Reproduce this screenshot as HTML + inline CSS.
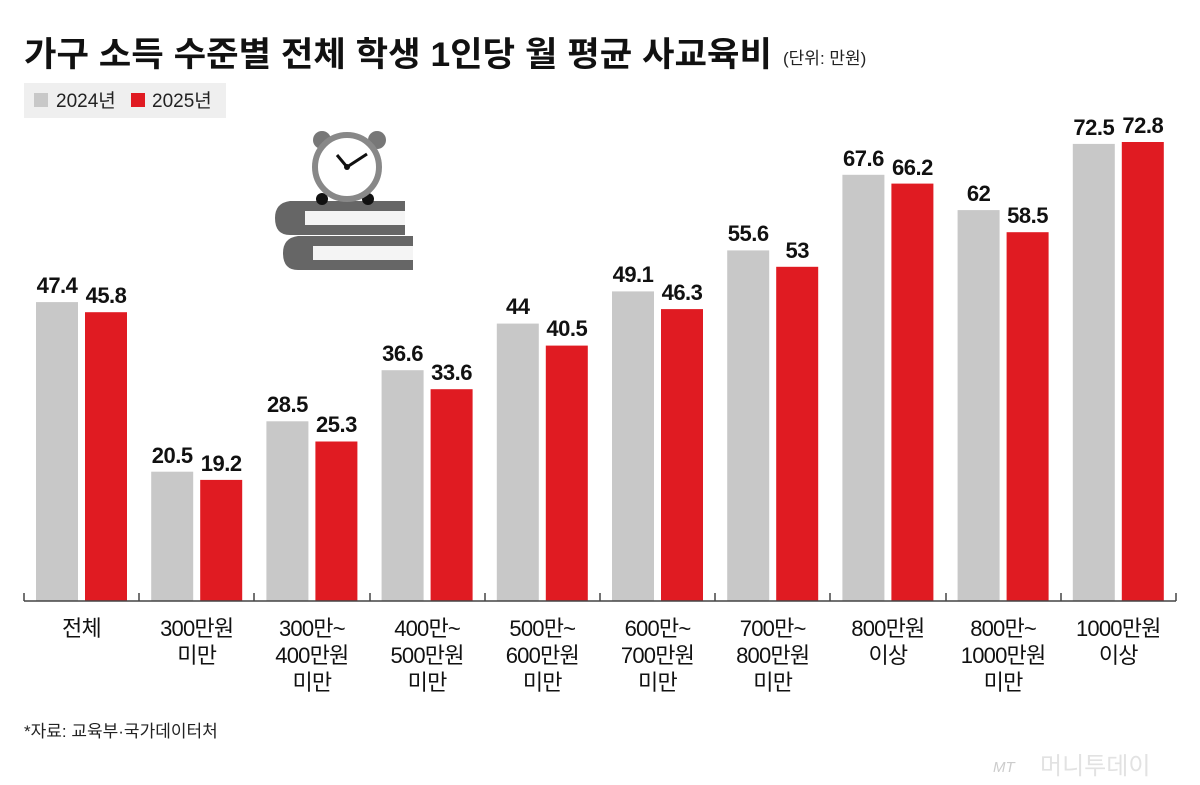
<!DOCTYPE html><html><head><meta charset="utf-8"><style>body{margin:0;background:#fff}svg{display:block}</style></head><body>
<svg width="1200" height="785" xmlns="http://www.w3.org/2000/svg" font-family="'Liberation Sans','Noto Sans CJK KR',sans-serif">
<text x="24" y="66" font-size="34" font-weight="bold" fill="#111" textLength="748" lengthAdjust="spacingAndGlyphs">가구 소득 수준별 전체 학생 1인당 월 평균 사교육비</text>
<text x="783" y="64" font-size="17" fill="#222">(단위: 만원)</text>
<rect x="24" y="83" width="202" height="35" fill="#efefef"/>
<rect x="34" y="93" width="14" height="14" fill="#c8c8c8"/>
<text x="56" y="107" font-size="19" fill="#222">2024년</text>
<rect x="131" y="93" width="14" height="14" fill="#e01b22"/>
<text x="152" y="107" font-size="19" fill="#222">2025년</text>
<g>
<path d="M290 235 q-15 0 -15 -17 q0 -15 15 -17 h115 v10 h-100 v14 h100 v10z" fill="#666"/>
<rect x="305" y="211" width="100" height="14" fill="#f4f4f4"/>
<path d="M298 270 q-15 0 -15 -17 q0 -15 15 -17 h115 v10 h-100 v14 h100 v10z" fill="#666"/>
<rect x="313" y="246" width="100" height="14" fill="#f4f4f4"/>
<circle cx="322" cy="140" r="9" fill="#777"/><circle cx="377" cy="140" r="9" fill="#777"/>
<circle cx="322" cy="199" r="6" fill="#111"/><circle cx="368" cy="199" r="6" fill="#111"/>
<circle cx="347" cy="167" r="32" fill="#fff" stroke="#888" stroke-width="6"/>
<path d="M337 155 L347 167 L367 154" stroke="#111" stroke-width="3" fill="none"/>
<circle cx="347" cy="167" r="3" fill="#111"/>
</g>
<g fill="#c8c8c8">
<rect x="36" y="302.1" width="42" height="298.9"/>
<rect x="151.2" y="471.7" width="42" height="129.3"/>
<rect x="266.4" y="421.3" width="42" height="179.7"/>
<rect x="381.6" y="370.2" width="42" height="230.8"/>
<rect x="496.8" y="323.6" width="42" height="277.4"/>
<rect x="612" y="291.4" width="42" height="309.6"/>
<rect x="727.2" y="250.4" width="42" height="350.6"/>
<rect x="842.4" y="174.8" width="42" height="426.2"/>
<rect x="957.6" y="210.1" width="42" height="390.9"/>
<rect x="1072.8" y="143.9" width="42" height="457.1"/>
</g>
<g fill="#e01b22">
<rect x="85" y="312.2" width="42" height="288.8"/>
<rect x="200.2" y="479.9" width="42" height="121.1"/>
<rect x="315.4" y="441.5" width="42" height="159.5"/>
<rect x="430.6" y="389.2" width="42" height="211.8"/>
<rect x="545.8" y="345.6" width="42" height="255.4"/>
<rect x="661" y="309.1" width="42" height="291.9"/>
<rect x="776.2" y="266.8" width="42" height="334.2"/>
<rect x="891.4" y="183.6" width="42" height="417.4"/>
<rect x="1006.6" y="232.2" width="42" height="368.8"/>
<rect x="1121.8" y="142" width="42" height="459"/>
</g>
<line x1="24" y1="601" x2="1176" y2="601" stroke="#444" stroke-width="1.5"/>
<g stroke="#444" stroke-width="1.5">
<line x1="24" y1="593" x2="24" y2="601"/><line x1="139" y1="593" x2="139" y2="601"/><line x1="254" y1="593" x2="254" y2="601"/><line x1="370" y1="593" x2="370" y2="601"/><line x1="485" y1="593" x2="485" y2="601"/><line x1="600" y1="593" x2="600" y2="601"/><line x1="715" y1="593" x2="715" y2="601"/><line x1="830" y1="593" x2="830" y2="601"/><line x1="946" y1="593" x2="946" y2="601"/><line x1="1061" y1="593" x2="1061" y2="601"/><line x1="1176" y1="593" x2="1176" y2="601"/>
</g>
<g font-size="22" font-weight="bold" text-anchor="middle" fill="#111" letter-spacing="-0.5">
<text x="57" y="293">47.4</text><text x="106" y="303">45.8</text>
<text x="172.2" y="463">20.5</text><text x="221.2" y="471">19.2</text>
<text x="287.4" y="412">28.5</text><text x="336.4" y="432">25.3</text>
<text x="402.6" y="361">36.6</text><text x="451.6" y="380">33.6</text>
<text x="517.8" y="314">44</text><text x="566.8" y="336">40.5</text>
<text x="633" y="282">49.1</text><text x="682" y="300">46.3</text>
<text x="748.2" y="241">55.6</text><text x="797.2" y="258">53</text>
<text x="863.4" y="166">67.6</text><text x="912.4" y="175">66.2</text>
<text x="978.6" y="201">62</text><text x="1027.6" y="223">58.5</text>
<text x="1093.8" y="135">72.5</text><text x="1142.8" y="133">72.8</text>
</g>
<g font-size="22" text-anchor="middle" fill="#111" letter-spacing="-0.8">
<text x="81.5" y="636">전체</text>
<text x="196.7" y="636">300만원</text><text x="196.7" y="663">미만</text>
<text x="311.9" y="636">300만~</text><text x="311.9" y="663">400만원</text><text x="311.9" y="690">미만</text>
<text x="427.1" y="636">400만~</text><text x="427.1" y="663">500만원</text><text x="427.1" y="690">미만</text>
<text x="542.3" y="636">500만~</text><text x="542.3" y="663">600만원</text><text x="542.3" y="690">미만</text>
<text x="657.5" y="636">600만~</text><text x="657.5" y="663">700만원</text><text x="657.5" y="690">미만</text>
<text x="772.7" y="636">700만~</text><text x="772.7" y="663">800만원</text><text x="772.7" y="690">미만</text>
<text x="887.9" y="636">800만원</text><text x="887.9" y="663">이상</text>
<text x="1003.1" y="636">800만~</text><text x="1003.1" y="663">1000만원</text><text x="1003.1" y="690">미만</text>
<text x="1118.3" y="636">1000만원</text><text x="1118.3" y="663">이상</text>
</g>
<text x="24" y="737" font-size="17" fill="#222">*자료: 교육부·국가데이터처</text>
<text x="993" y="772" font-size="15" font-style="italic" fill="#ccc">MT</text>
<text x="1040" y="774" font-size="24" fill="#e2e2e2">머니투데이</text>
</svg></body></html>
